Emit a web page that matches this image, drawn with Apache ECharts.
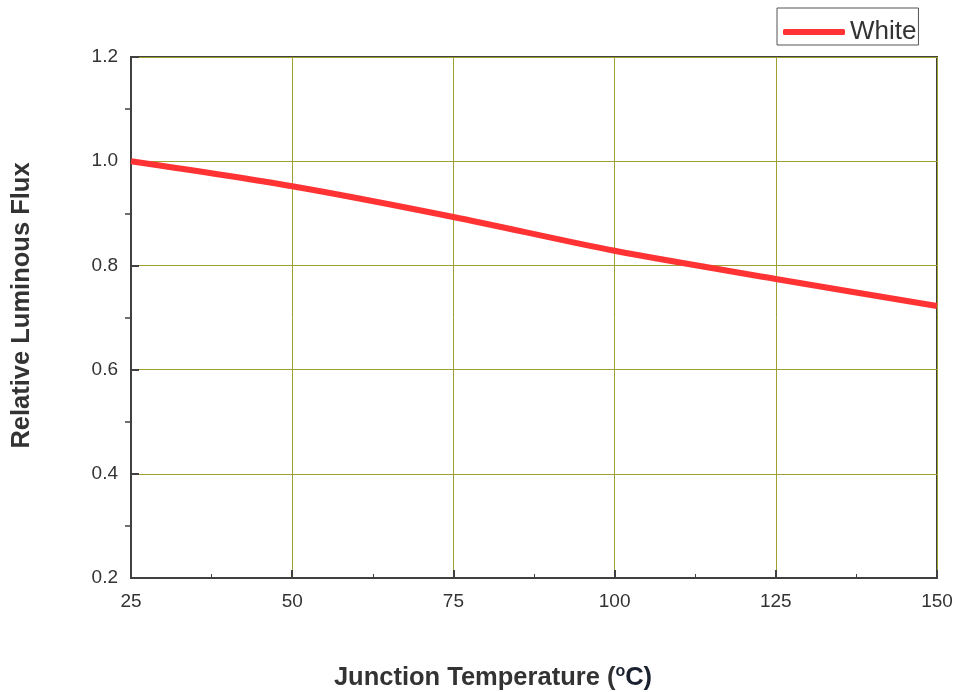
<!DOCTYPE html>
<html>
<head>
<meta charset="utf-8">
<script src="https://cdn.jsdelivr.net/npm/echarts@6/dist/echarts.min.js"></script>
<style>
html,body{margin:0;padding:0;background:#fff;}
#chart{width:958px;height:692px;}
</style>
</head>
<body>
<div id="chart"></div>
<script>
const temperatures = [25, 50, 75, 100, 125, 150];
const whiteFlux = [1.0, 0.952, 0.893, 0.828, 0.774, 0.722];
const seriesName = 'White';
const xAxisName = '{a|Junction Temperature (}{b|o}{c|C)}';
const yAxisName = 'Relative Luminous Flux';

const chart = echarts.init(document.getElementById('chart'));
const font = 'Arial, "Liberation Sans", sans-serif';
chart.setOption({
  animation: false,
  backgroundColor: '#fff',
  grid: {left: 131, right: 21, top: 57, bottom: 114, show: true, borderColor: '#404040', borderWidth: 2, containLabel: false, outerBoundsMode: 'none'},
  legend: {
    data: [seriesName], left: 777, top: 8,
    padding: [11, 2, 0, 6],
    borderColor: '#555', borderWidth: 1,
    itemWidth: 62, itemHeight: 6, icon: 'roundRect',
    textStyle: {fontSize: 26, color: '#333', fontFamily: font}
  },
  xAxis: {
    type: 'value', min: 25, max: 150, interval: 25,
    name: xAxisName, nameLocation: 'middle', nameGap: 86,
    nameTextStyle: {
      fontSize: 25.5, fontWeight: 'bold', color: '#333', fontFamily: font,
      padding: [0, 82, 0, 0],
      rich: {
        a: {fontSize: 25.5, fontWeight: 'bold', color: '#333', fontFamily: font},
        b: {fontSize: 16, fontWeight: 'bold', color: '#1a2230', fontFamily: font, padding: [0, 0, 12, 0]},
        c: {fontSize: 25.5, fontWeight: 'bold', color: '#1a2230', fontFamily: font}
      }
    },
    axisLine: {show: true, lineStyle: {color: '#404040', width: 2}},
    axisTick: {show: true, inside: true, length: 8, lineStyle: {color: '#404040', width: 2}},
    minorTick: {show: true, splitNumber: 2, length: 4, lineStyle: {color: '#404040', width: 1}},
    axisLabel: {fontSize: 19, color: '#333', margin: 14, fontFamily: font},
    splitLine: {show: true, lineStyle: {color: '#a0a030', width: 1}}
  },
  yAxis: [{
    type: 'value', min: 0.2, max: 1.2, interval: 0.2,
    name: yAxisName, nameLocation: 'middle', nameGap: 96,
    nameTextStyle: {fontSize: 25.5, fontWeight: 'bold', color: '#333', fontFamily: font, padding: [0, 0, 0, 24]},
    axisLine: {show: true, lineStyle: {color: '#404040', width: 2}},
    axisTick: {show: true, inside: true, length: 8, lineStyle: {color: '#404040', width: 2}},
    axisLabel: {fontSize: 19, color: '#333', margin: 13, fontFamily: font, formatter: v => v.toFixed(1)},
    splitLine: {show: true, lineStyle: {color: '#a0a030', width: 1}}
  }, {
    type: 'value', min: 0.2, max: 1.2, interval: 0.2, position: 'left',
    axisLine: {show: false},
    axisTick: {show: false, inside: false},
    minorTick: {show: true, splitNumber: 2, length: 6, lineStyle: {color: '#404040', width: 1.5}},
    axisLabel: {show: false},
    splitLine: {show: false}
  }],
  series: [{
    name: seriesName, type: 'line', data: temperatures.map((t, i) => [t, whiteFlux[i]]),
    smooth: 0.3, showSymbol: false, symbol: 'none',
    lineStyle: {color: '#ff3333', width: 6},
    itemStyle: {color: '#ff3333'}
  }]
});
</script>
</body>
</html>
